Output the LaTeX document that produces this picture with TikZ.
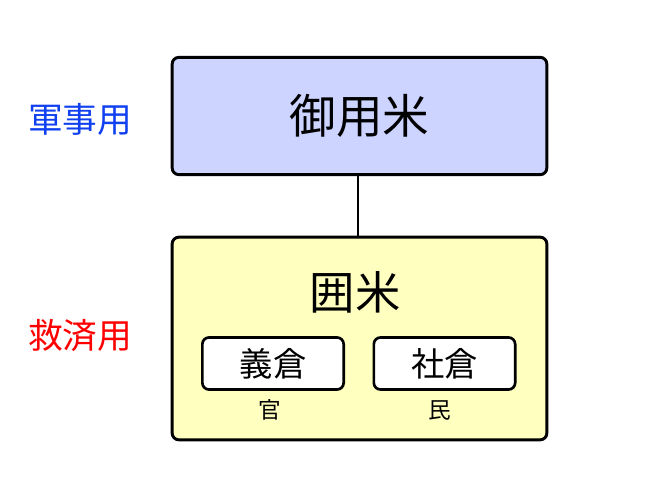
\documentclass[tikz,border=0pt]{standalone}
\usepackage{fontspec}
\setmainfont{Noto Sans CJK JP}
\definecolor{kiblue}{RGB}{204,212,255}
\definecolor{kiyellow}{RGB}{255,255,192}
\definecolor{kitext}{RGB}{16,64,240}
\tikzset{
  ricebox/.style={draw, line width=2.2pt, rounded corners=5pt},
  granary/.style={draw, line width=2pt, rounded corners=5pt, fill=white,
    minimum width=106pt, minimum height=39pt, font=\fontsize{25}{25}\selectfont}
}
\begin{document}
\begin{tikzpicture}[x=0.75pt, y=-0.75pt]
  \useasboundingbox (0,0) rectangle (656,499);
  % Upper box
  \node[ricebox, fill=kiblue, minimum width=281pt, minimum height=88pt,
    font=\fontsize{35}{35}\selectfont] (goyo) at (359.5,116) {御用米};
  % Lower box
  \node[ricebox, fill=kiyellow, minimum width=281pt, minimum height=152pt] (kakoi) at (359.5,338.5) {};
  \node[font=\fontsize{34}{34}\selectfont] (kakoititle) at (355,292) {囲米};
  \draw[line width=1.6pt] ([xshift=-1.1pt]goyo.south) -- ([xshift=-1.1pt]kakoi.north);
  % Granaries
  \node[granary] (gisou) at (273,363.5) {義倉};
  \node[granary] (shasou) at (444.5,363.5) {社倉};
  \node[font=\fontsize{17}{17}\selectfont] (kan) at (270,410) {官};
  \node[font=\fontsize{17}{17}\selectfont] (min) at (440,410) {民};
  % Labels on the left
  \node[text=kitext, font=\fontsize{26}{26}\selectfont] (gunji) at (80,119) {軍事用};
  \node[text=red, font=\fontsize{26}{26}\selectfont] (kyusai) at (80,335) {救済用};
\end{tikzpicture}
\end{document}
